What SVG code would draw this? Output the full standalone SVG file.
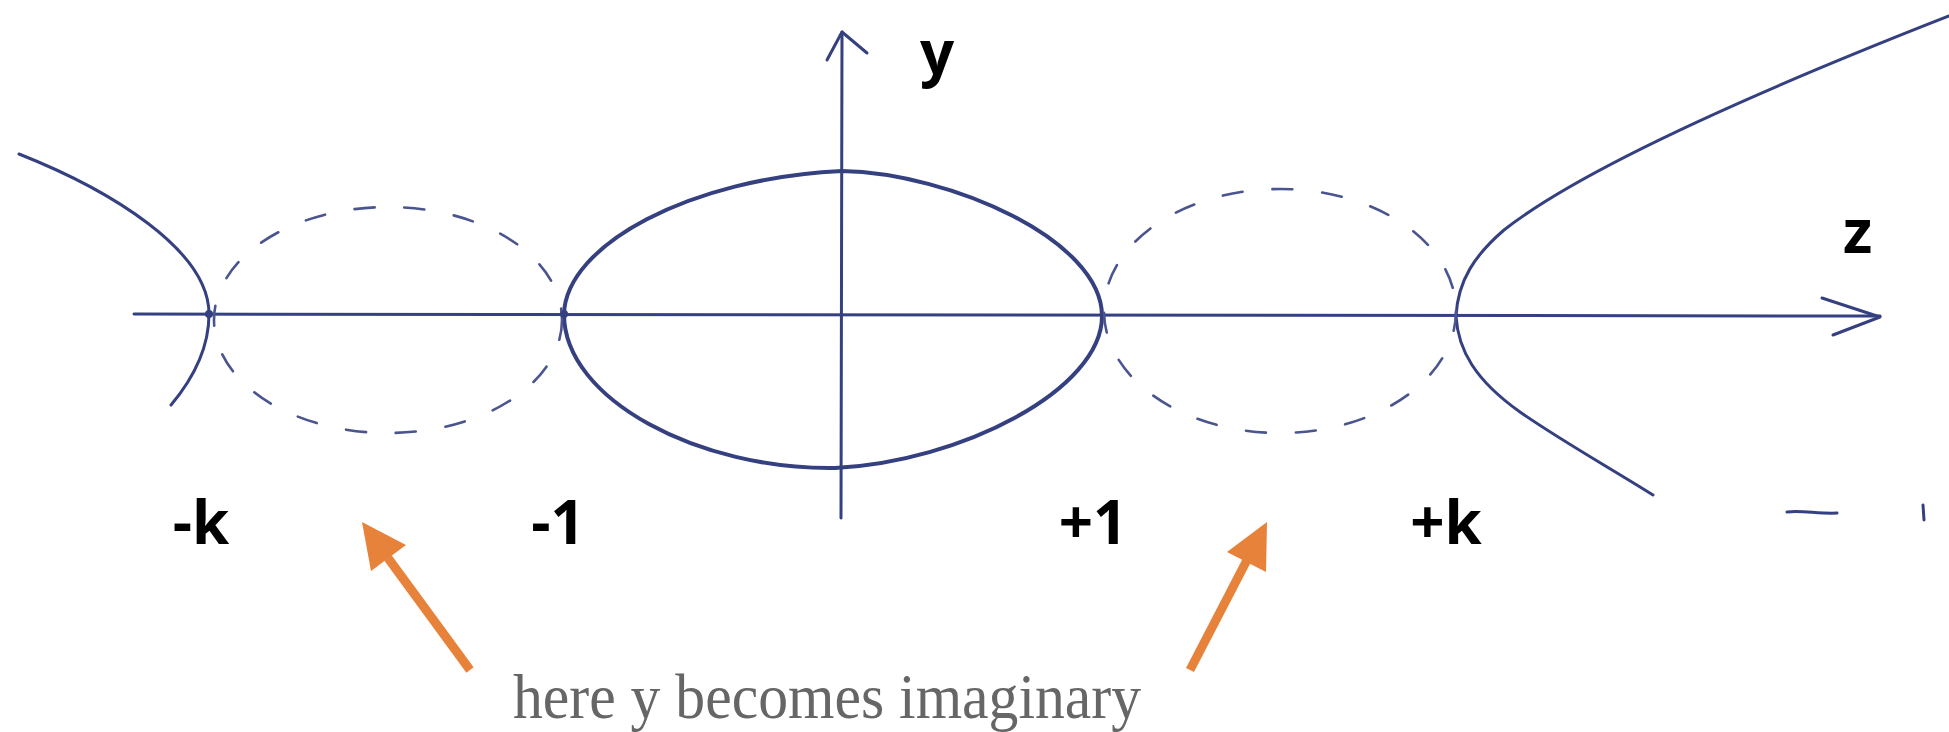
<svg xmlns="http://www.w3.org/2000/svg" width="1949" height="732" viewBox="0 0 1949 732">
  <style>
    .pen { fill: none; stroke: #34407f; stroke-width: 3; stroke-linecap: round; stroke-linejoin: round; }
    .thick { stroke-width: 4; }
    .dash { fill: none; stroke: #4a5590; stroke-width: 2.6; stroke-dasharray: 20 30; stroke-linecap: round; }
    .lbl { font-family: "Open Sans", "Liberation Sans", sans-serif; font-weight: 700; font-size: 60px; fill: #000; }
    .cap { font-family: "Liberation Serif", serif; font-size: 64px; fill: #666; }
    .orange { stroke: #e7823a; stroke-width: 9; fill: none; }
    .ohead { fill: #e7823a; }
  </style>
  <rect width="1949" height="732" fill="#fff"/>

  <g id="axes">
    <path class="pen" d="M134,314 L1880,316"/>
    <path class="pen" d="M1822,298 L1880,317 L1833,335"/>
    <path class="pen" d="M841,518 L842,32"/>
    <path class="pen" d="M827,60 L842,32 L867,53"/>
  </g>

  <g id="curves">
    <path id="left-branch" class="pen" d="M19,154 C110,190 209,250 209,314 C209,350 192,380 171,405"/>
    <path id="central-oval" class="pen thick" d="M564,314 C566,245 690,178 842,171 C950,173 1102,240 1102,316 C1102,390 960,462 835,468 C700,470 564,400 564,314 Z"/>
    <path id="right-branch" class="pen" d="M1949,16 C1760,90 1580,170 1504,230 C1475,255 1458,280 1456,316 C1458,350 1475,380 1520,412 C1560,440 1610,468 1653,495"/>
    <ellipse id="left-dashed" class="dash" cx="388" cy="320" rx="174" ry="113"/>
    <ellipse id="right-dashed" class="dash" cx="1280" cy="311" rx="176" ry="122"/>
    <circle cx="209" cy="314" r="4" fill="#34407f"/>
    <circle cx="564" cy="314" r="4" fill="#34407f"/>
    <path class="pen" d="M1787,512 C1800,510 1820,514 1837,513"/>
    <path class="pen" d="M1923,505 L1924,520"/>
  </g>

  <g id="labels">
    <text class="lbl" x="920" y="74">y</text>
    <text class="lbl" x="1843" y="253">z</text>
    <text class="lbl" x="201" y="544" text-anchor="middle">-k</text>
    <text class="lbl" x="558" y="544" text-anchor="middle">-1</text>
    <text class="lbl" x="1093" y="544" text-anchor="middle">+1</text>
    <text class="lbl" x="1446" y="544" text-anchor="middle">+k</text>
  </g>

  <g id="annotation">
    <path class="orange" d="M470,670 L388,558"/>
    <polygon class="ohead" points="362,522 406,545 371,571"/>
    <path class="orange" d="M1190,670 L1247,560"/>
    <polygon class="ohead" points="1267,522 1266,572 1227,552"/>
    <text class="cap" x="827" y="718" text-anchor="middle" textLength="628" lengthAdjust="spacingAndGlyphs">here y becomes imaginary</text>
  </g>
</svg>
